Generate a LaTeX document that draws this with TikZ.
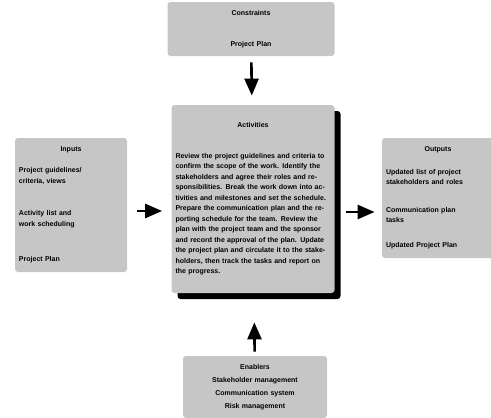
\documentclass[tikz,border=0pt]{standalone}
\usepackage{fontspec}
\setmainfont{Liberation Sans}
\usetikzlibrary{arrows.meta,shadows}

\begin{document}
\begin{tikzpicture}[
	x=1pt, y=1pt,
	box/.style={fill=gray!45, rounded corners=3pt, inner sep=+4pt, font=\fontsize{7}{10.5}\selectfont\bfseries},
	flow/.style={line width=2.6pt, -{Triangle[length=17pt,width=14pt]}},
	thick
]
\useasboundingbox (0,0) rectangle (491,-418);
\node[box, text width=159, minimum height=54, align=center] (cons) at (251,-29) {%
	Constraints\\[20pt]
	Project Plan};
\node[box, text width=155, minimum height=188,
	drop shadow={shadow xshift=6pt, shadow yshift=-6pt, fill=black, opacity=1}] (act) at (253,-199) {%
	{\centering Activities\par}\vspace{20pt}
	\raggedright
	Review the project guidelines and criteria to confirm the scope of the work.
	Identify the stakeholders and agree their roles and responsibilities.
	Break the work down into activities and milestones and set the schedule.
	Prepare the communication plan and the reporting schedule for the team.
	Review the plan with the project team and the sponsor and record the
	approval of the plan. Update the project plan and circulate it to the
	stakeholders, then track the tasks and report on the progress.};
\node[box, text width=104, minimum height=134] (inp) at (71,-205) {%
	{\centering Inputs\par}\vspace{11pt}
	\raggedright
	Project guidelines/\\ criteria, views\par\vspace{22pt}
	Activity list and\\ work scheduling\par\vspace{25pt}
	Project Plan};
\node[box, text width=104, minimum height=120] (outp) at (438,-198) {%
	{\centering Outputs\par}\vspace{12pt}
	\raggedright
	Updated list of project\\ stakeholders and roles\par\vspace{17pt}
	Communication plan\\ tasks\par\vspace{14pt}
	Updated Project Plan};
\node[box, text width=136, minimum height=62, align=center, font=\fontsize{7}{13}\selectfont\bfseries] (ena) at (255,-387) {%
	Enablers\\
	Stakeholder management\\
	Communication system\\
	Risk management};
\draw[flow, shorten <=6pt, shorten >=9pt] (cons) -- (act);
\draw[flow, shorten <=10pt, shorten >=9pt] ([yshift=-6pt]inp.east) -- ([yshift=-6pt]inp.east -| act.west);
\draw[flow, shorten <=11pt, shorten >=7pt] ([yshift=-13pt]act.east) -- ([yshift=-13pt]act.east -| outp.west);
\draw[flow, shorten <=4pt, shorten >=29pt] (ena) -- (act);
\end{tikzpicture}
\end{document}
